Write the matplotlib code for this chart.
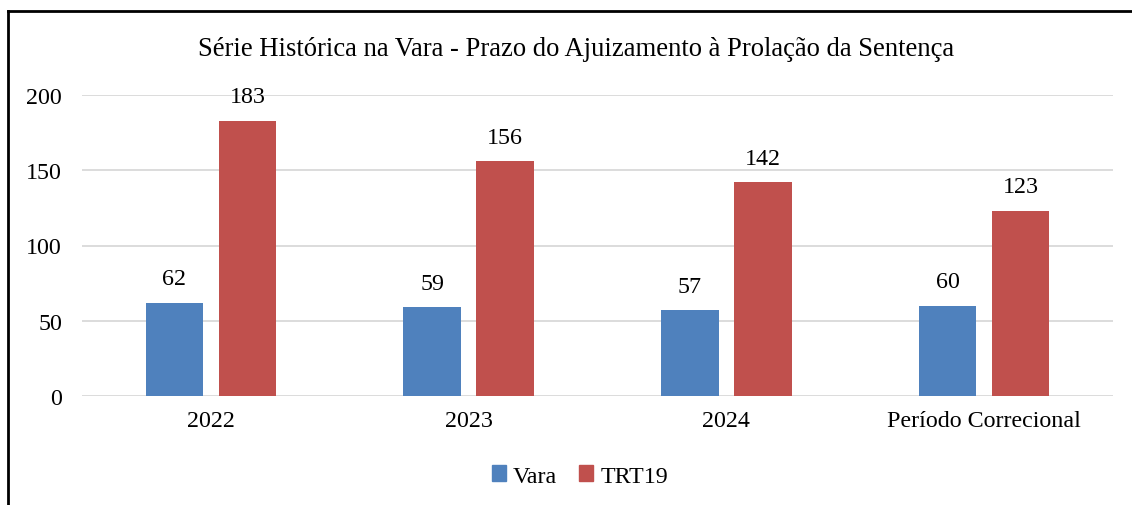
import matplotlib
matplotlib.use("Agg")
import matplotlib.pyplot as plt
import numpy as np
from matplotlib.lines import Line2D
from matplotlib.patches import Patch

categories = ["2022", "2023", "2024", "Período Correcional"]
vara = [62, 59, 57, 60]
trt19 = [183, 156, 142, 123]
series_names = ["Vara", "TRT19"]
colors = ["#4F81BD", "#C0504D"]
title = "Série Histórica na Vara - Prazo do Ajuizamento à Prolação da Sentença"

plt.rcParams['font.family'] = ['Liberation Serif', 'DejaVu Serif']
FS = 17.3

W, H = 1132, 506
fig = plt.figure(figsize=(W/100, H/100), dpi=100)
ax = fig.add_axes([82/W, 1-397/H, (1113-82)/W, (397-96)/H])

x = np.arange(len(categories))
bw = 0.223
off = 0.1415
b1 = ax.bar(x - off, vara, bw, color=colors[0], zorder=3)
b2 = ax.bar(x + off, trt19, bw, color=colors[1], zorder=3)
for bars, vals in ((b1, vara), (b2, trt19)):
    for r, v in zip(bars, vals):
        ax.annotate(str(v), (r.get_x() + r.get_width()/2, v), xytext=(0, 17.3),
                    textcoords="offset points", ha="center", va="center", fontsize=FS)

ax.set_xlim(-0.5, len(categories) - 0.5)
ax.set_ylim(0, 200)
ax.set_yticks([0, 50, 100, 150, 200])
ax.set_xticks(x)
ax.set_xticklabels(categories)
ax.tick_params(axis='both', length=0, labelsize=FS)
ax.tick_params(axis='y', pad=14.4)
ax.tick_params(axis='x', pad=10)
ax.yaxis.grid(True, color="#D9D9D9", linewidth=1.3, zorder=0)
for s in ax.spines.values():
    s.set_visible(False)

fig.text(576/W, 1 - 50/H, title, ha="center", va="center", fontsize=19.2)

handles = [Patch(color=c) for c in colors]
fig.legend(handles, series_names, loc="center", bbox_to_anchor=(580/W, 1 - 477/H), ncol=2,
           frameon=False, fontsize=FS, handlelength=0.6, handleheight=0.6,
           handletextpad=0.3, columnspacing=0.9)

# partial frame border (top and left)
fig.add_artist(Line2D([8/W, 1.0], [1 - 12/H, 1 - 12/H], color="black", linewidth=2, transform=fig.transFigure))
fig.add_artist(Line2D([8/W, 8/W], [1 - 12/H, 0], color="black", linewidth=2, transform=fig.transFigure))

fig.savefig("out.png", dpi=100, facecolor="white")
